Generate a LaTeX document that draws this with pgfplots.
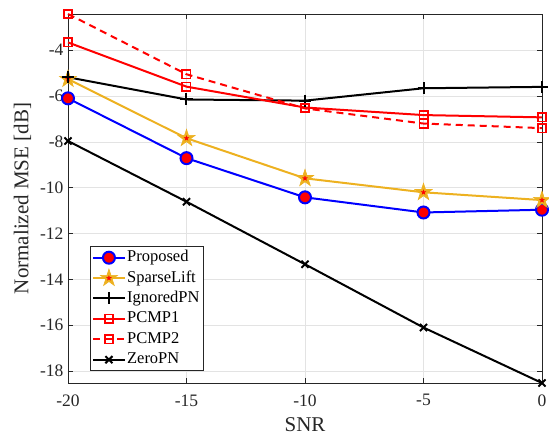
\documentclass[border=0pt]{standalone}
\usepackage{pgfplots}
\pgfplotsset{compat=1.18}
\usepackage{fontspec}
\setmainfont{Liberation Serif}
\definecolor{mlorange}{rgb}{0.929,0.694,0.125}
\definecolor{axgray}{rgb}{0.15,0.15,0.15}
\pgfdeclareplotmark{pentagram}{%
  \pgfpathmoveto{\pgfpointpolar{90}{\pgfplotmarksize}}%
  \pgfpathlineto{\pgfpointpolar{126}{0.382\pgfplotmarksize}}%
  \pgfpathlineto{\pgfpointpolar{162}{\pgfplotmarksize}}%
  \pgfpathlineto{\pgfpointpolar{198}{0.382\pgfplotmarksize}}%
  \pgfpathlineto{\pgfpointpolar{234}{\pgfplotmarksize}}%
  \pgfpathlineto{\pgfpointpolar{270}{0.382\pgfplotmarksize}}%
  \pgfpathlineto{\pgfpointpolar{306}{\pgfplotmarksize}}%
  \pgfpathlineto{\pgfpointpolar{342}{0.382\pgfplotmarksize}}%
  \pgfpathlineto{\pgfpointpolar{18}{\pgfplotmarksize}}%
  \pgfpathlineto{\pgfpointpolar{54}{0.382\pgfplotmarksize}}%
  \pgfpathclose
  \pgfusepathqfillstroke}
\begin{document}
\begin{tikzpicture}
\begin{axis}[
  at={(0pt,0pt)}, anchor=south west,
  scale only axis, width=474pt, height=369pt,
  clip=false,
  xmin=-20, xmax=0, ymin=-18.52, ymax=-2.42,
  xtick={-20,-15,-10,-5,0}, ytick={-18,-16,-14,-12,-10,-8,-6,-4},
  grid=major, grid style={gray!22, line width=0.5pt},
  axis line style={axgray, line width=0.6pt},
  tick style={axgray, line width=0.6pt}, major tick length=5pt, tick align=inside,
  xlabel={SNR}, ylabel={Normalized MSE [dB]},
  ticklabel style={font=\fontsize{17.5}{20}\selectfont, text=axgray},
  xticklabel style={yshift=-8pt},
  yticklabel style={xshift=-1pt},
  label style={font=\fontsize{21}{24}\selectfont, text=axgray},
  xlabel style={yshift=-4pt},
  ylabel style={yshift=2pt},
  /pgf/number format/assume math mode=true,
  legend style={at={(22pt,12pt)}, anchor=south west,
    font=\fontsize{16.5}{19}\selectfont, draw=axgray, line width=0.6pt,
    inner xsep=2pt, inner ysep=2pt, row sep=2.4pt,
    nodes={inner sep=1.5pt, text height=11.5pt, text depth=3.5pt},
    cells={anchor=west}},
  legend image code/.code={\draw[mark repeat=2,mark phase=2] plot coordinates {(0cm,0cm)(0.55cm,0cm)(1.1cm,0cm)};},
  every axis plot/.append style={line width=2pt},
]
\addplot[blue, mark=*, mark size=6pt, mark options={fill=red, draw=blue, line width=2pt}]
  coordinates {(-20,-6.10) (-15,-8.71) (-10,-10.42) (-5,-11.08) (0,-10.96)};
\addlegendentry{Proposed}
\addplot[mlorange, mark=pentagram, mark size=9pt, mark options={fill=mlorange, draw=mlorange, line width=0.6pt},
  legend image code/.code={%
    \draw[mlorange, line width=2pt] (0cm,0cm)--(1.1cm,0cm);
    \path plot[mark=pentagram, mark size=9pt, mark options={fill=mlorange, draw=mlorange, line width=0.6pt}] coordinates {(0.55cm,0cm)};
    \path plot[mark=pentagram, mark size=2.5pt, mark options={fill=red, draw=red, line width=0.3pt}] coordinates {(0.55cm,0cm)};}]
  coordinates {(-20,-5.26) (-15,-7.84) (-10,-9.59) (-5,-10.20) (0,-10.54)};
\addlegendentry{SparseLift}
\addplot[red, only marks, mark=pentagram, mark size=2.5pt, mark options={fill=red, draw=red, line width=0.3pt}, forget plot]
  coordinates {(-20,-5.26) (-15,-7.84) (-10,-9.59) (-5,-10.20) (0,-10.54)};
\addplot[black, mark=+, mark size=6pt, mark options={line width=2pt}]
  coordinates {(-20,-5.18) (-15,-6.15) (-10,-6.20) (-5,-5.66) (0,-5.60)};
\addlegendentry{IgnoredPN}
\addplot[red, mark=square, mark size=4.2pt, mark options={solid, line width=1.6pt}]
  coordinates {(-20,-3.66) (-15,-5.59) (-10,-6.50) (-5,-6.83) (0,-6.93)};
\addlegendentry{PCMP1}
\addplot[red, dashed, dash pattern=on 7pt off 5pt, mark=square, mark size=4.2pt, mark options={solid, line width=1.6pt}]
  coordinates {(-20,-2.42) (-15,-5.05) (-10,-6.54) (-5,-7.20) (0,-7.40)};
\addlegendentry{PCMP2}
\addplot[black, mark=x, mark size=5pt, mark options={line width=2pt}]
  coordinates {(-20,-7.96) (-15,-10.61) (-10,-13.34) (-5,-16.10) (0,-18.52)};
\addlegendentry{ZeroPN}
\end{axis}
\pgfresetboundingbox
\path (-68pt,-56pt) rectangle (481pt,383pt);
\end{tikzpicture}
\end{document}
